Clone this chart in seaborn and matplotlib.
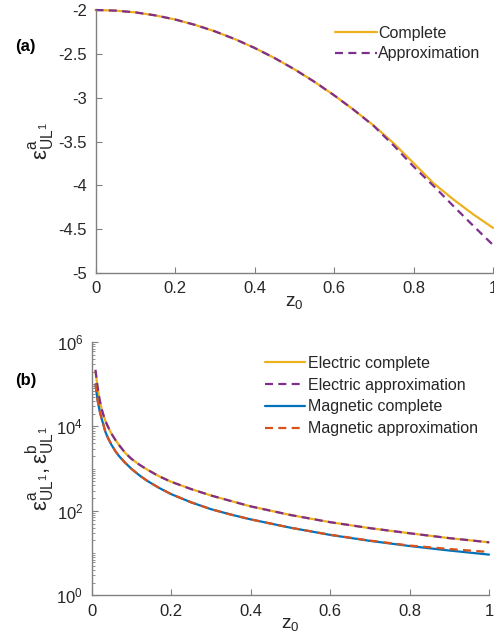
import numpy as np
import pandas as pd
import seaborn as sns
import matplotlib.pyplot as plt
from matplotlib.ticker import FixedLocator, FuncFormatter, LogLocator, NullFormatter

# panel (a): epsilon^a vs z0
z_a = [0.00, 0.05, 0.10, 0.15, 0.20, 0.25, 0.30, 0.35, 0.40, 0.45, 0.50,
       0.55, 0.60, 0.65, 0.70, 0.75, 0.80, 0.85, 0.90, 0.95, 1.00]
complete_a = [-2.000, -2.007, -2.027, -2.061, -2.108, -2.169, -2.243, -2.331, -2.432, -2.547, -2.675,
              -2.817, -2.972, -3.140, -3.318, -3.520, -3.745, -3.975, -4.160, -4.330, -4.485]
approx_a = [-2.000, -2.007, -2.027, -2.061, -2.108, -2.169, -2.243, -2.331, -2.432, -2.547, -2.675,
            -2.817, -2.972, -3.140, -3.323, -3.545, -3.785, -4.005, -4.235, -4.460, -4.680]

# panel (b): electric / magnetic, log scale
z_b = [0.01, 0.015, 0.02, 0.025, 0.03, 0.035, 0.04, 0.05, 0.06, 0.07, 0.085, 0.10, 0.12, 0.14,
       0.17, 0.20, 0.25, 0.30, 0.35, 0.40, 0.50, 0.60, 0.70, 0.80, 0.90, 1.00]
elec_complete = [2.0e5, 8.9e4, 4.5e4, 2.7e4, 1.86e4, 1.35e4, 1.05e4, 6800, 4800, 3550, 2350, 1720, 1250, 950,
                 660, 490, 330, 232, 172, 128, 80, 54, 39, 29.5, 22.6, 18.0]
elec_approx = [2.2e5, 8.9e4, 4.5e4, 2.7e4, 1.86e4, 1.35e4, 1.05e4, 6800, 4800, 3550, 2350, 1720, 1250, 950,
               660, 490, 330, 232, 172, 128, 80, 54, 39, 29.5, 22.6, 18.0]
mag_complete = [1.0e5, 4.3e4, 2.45e4, 1.58e4, 1.1e4, 7400, 5700, 3700, 2600, 1950, 1370, 1000, 700, 515,
                350, 250, 160, 110, 82, 63, 40, 27, 19.5, 14.7, 11.5, 9.2]
mag_approx = [1.0e5, 4.3e4, 2.45e4, 1.58e4, 1.1e4, 7400, 5700, 3700, 2600, 1950, 1370, 1000, 700, 515,
              350, 250, 160, 110, 82, 63, 40, 27.2, 19.8, 15.1, 12.5, 10.6]

labels_a = ['Complete', 'Approximation']
labels_b = ['Electric complete', 'Electric approximation', 'Magnetic complete', 'Magnetic approximation']

blue = '#0072BD'
orange = '#D95319'
yellow = '#EDB120'
purple = '#7E2F8E'

sns.set_theme(style='white')
plt.rcParams['font.family'] = ['Liberation Sans', 'DejaVu Sans']
plt.rcParams['mathtext.fontset'] = 'custom'
plt.rcParams['mathtext.rm'] = 'Liberation Sans'
plt.rcParams['mathtext.it'] = 'Liberation Sans:italic'
plt.rcParams['mathtext.default'] = 'regular'
plt.rcParams['mathtext.fallback'] = 'stixsans'
plt.rcParams['axes.unicode_minus'] = False

axcol = '#808080'
txtcol = '#262626'
fs = 12
lfs = 11.5
lw = 1.6
dash = (3.6, 2.4)

fig = plt.figure(figsize=(4.94, 6.43), dpi=100)
ax1 = fig.add_axes([95.5 / 494, 1 - 273 / 643, 397.5 / 494, 263 / 643])
ax2 = fig.add_axes([91.5 / 494, 1 - 595.3 / 643, 397.5 / 494, 253.3 / 643])

df_a = pd.DataFrame({'z': z_a, 'complete': complete_a, 'approx': approx_a})
sns.lineplot(data=df_a, x='z', y='complete', ax=ax1, color=yellow, lw=lw, label=labels_a[0])
sns.lineplot(data=df_a, x='z', y='approx', ax=ax1, color=purple, lw=lw,
             linestyle=(0, dash), label=labels_a[1])

df_b = pd.DataFrame({'z': z_b, 'ec': elec_complete, 'ea': elec_approx,
                     'mc': mag_complete, 'ma': mag_approx})
sns.lineplot(data=df_b, x='z', y='ec', ax=ax2, color=yellow, lw=lw, label=labels_b[0])
sns.lineplot(data=df_b, x='z', y='ea', ax=ax2, color=purple, lw=lw, linestyle=(0, dash), label=labels_b[1])
sns.lineplot(data=df_b, x='z', y='mc', ax=ax2, color=blue, lw=lw, label=labels_b[2])
sns.lineplot(data=df_b, x='z', y='ma', ax=ax2, color=orange, lw=lw, linestyle=(0, dash), label=labels_b[3])

fmt = FuncFormatter(lambda v, p: '%g' % round(v, 3))

for ax in (ax1, ax2):
    for s in ['top', 'right']:
        ax.spines[s].set_visible(False)
    for s in ['left', 'bottom']:
        ax.spines[s].set_color(axcol)
        ax.spines[s].set_linewidth(1.0)
    ax.set_xlim(0, 1)
    ax.xaxis.set_major_locator(FixedLocator([0, 0.2, 0.4, 0.6, 0.8, 1.0]))
    ax.xaxis.set_major_formatter(fmt)
    ax.tick_params(which='both', direction='in', color=axcol, labelcolor=txtcol,
                   labelsize=fs, bottom=True, left=True, top=False, right=False)
    ax.tick_params(which='major', length=4, width=0.8, pad=6)
    ax.set_xlabel(r'$z_0$', fontsize=fs * 1.15, color=txtcol, labelpad=-2)
    for line in ax.get_lines():
        line.set_clip_on(False)

ax1.set_ylim(-5, -2)
ax1.yaxis.set_major_locator(FixedLocator([-5, -4.5, -4, -3.5, -3, -2.5, -2]))
ax1.yaxis.set_major_formatter(fmt)
ax1.set_ylabel(r'$\varepsilon^{a}_{UL^{1}}$', fontsize=16, color=txtcol, labelpad=2)

ax2.set_yscale('log')
ax2.set_ylim(1, 1e6)
ax2.yaxis.set_major_locator(FixedLocator([1, 1e2, 1e4, 1e6]))
ax2.yaxis.set_major_formatter(FuncFormatter(lambda v, p: r'$10^{%d}$' % round(np.log10(v))))
ax2.yaxis.set_minor_locator(LogLocator(base=10, subs=np.arange(1, 10), numticks=50))
ax2.yaxis.set_minor_formatter(NullFormatter())
ax2.tick_params(axis='y', which='minor', length=2, width=0.6)
ax2.set_ylabel(r'$\varepsilon^{a}_{UL^{1}}, \varepsilon^{b}_{UL^{1}}$', fontsize=16, color=txtcol, labelpad=0)

leg1 = ax1.legend(loc='upper left', bbox_to_anchor=(335 / 494, 1 - 26 / 643), bbox_transform=fig.transFigure,
                  frameon=False, fontsize=lfs, handlelength=2.6, handletextpad=0.1, labelspacing=0.33,
                  borderpad=0, borderaxespad=0)
leg2 = ax2.legend(loc='upper left', bbox_to_anchor=(265 / 494, 1 - 356 / 643), bbox_transform=fig.transFigure,
                  frameon=False, fontsize=lfs, handlelength=2.5, handletextpad=0.2, labelspacing=0.42,
                  borderpad=0, borderaxespad=0)
for leg in (leg1, leg2):
    for t in leg.get_texts():
        t.set_color(txtcol)

fig.text(15 / 494, 1 - 47 / 643, '(a)', fontsize=fs, fontweight='bold', va='center', color='black')
fig.text(15 / 494, 1 - 380 / 643, '(b)', fontsize=fs, fontweight='bold', va='center', color='black')

fig.savefig('out.png', dpi=100)
